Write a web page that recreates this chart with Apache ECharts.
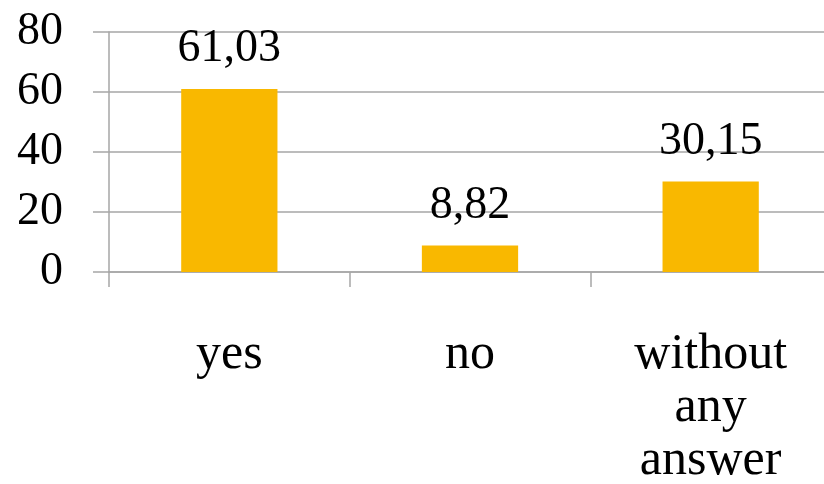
<!DOCTYPE html>
<html>
<head>
<meta charset="utf-8">
<script src="https://cdn.jsdelivr.net/npm/echarts@6/dist/echarts.min.js"></script>
<style>
  html, body { margin: 0; padding: 0; background: #fff; }
  #chart { width: 824px; height: 484px; }
</style>
</head>
<body>
<div id="chart"></div>
<script>
// Survey answers (percent)
const categories = ['yes', 'no', 'without any answer'];
const values = [61.03, 8.82, 30.15];
const yTicks = { min: 0, max: 80, interval: 20 };

const FONT = '"Liberation Serif", "DejaVu Serif", serif';
const GRID_COLOR = '#a6a6a6';

const chart = echarts.init(document.getElementById('chart'), null, { renderer: 'canvas' });

chart.setOption({
  animation: false,
  backgroundColor: '#ffffff',
  grid: { left: 109, right: -7, top: 32, bottom: 212, containLabel: false, outerBoundsMode: 'none' },
  xAxis: {
    type: 'category',
    data: categories,
    axisLine: { show: true, lineStyle: { color: GRID_COLOR, width: 1.5 } },
    axisTick: { show: true, length: 15, alignWithLabel: false, lineStyle: { color: GRID_COLOR, width: 1.5 } },
    axisLabel: {
      margin: 56,
      color: '#000',
      fontFamily: FONT,
      fontSize: 50,
      lineHeight: 53,
      interval: 0,
      formatter: v => v.split(' ').join('\n')
    }
  },
  yAxis: {
    type: 'value',
    min: yTicks.min,
    max: yTicks.max,
    interval: yTicks.interval,
    axisLine: { show: true, lineStyle: { color: GRID_COLOR, width: 1.5 } },
    axisTick: { show: true, length: 16, lineStyle: { color: GRID_COLOR, width: 1.5 } },
    splitLine: { show: true, lineStyle: { color: GRID_COLOR, width: 1.5 } },
    axisLabel: {
      margin: 46,
      color: '#000',
      fontFamily: FONT,
      fontSize: 46
    }
  },
  series: [{
    type: 'bar',
    data: values,
    barWidth: '40%',
    itemStyle: { color: '#F9B800' },
    label: {
      show: true,
      position: 'top',
      distance: 17,
      color: '#000',
      fontFamily: FONT,
      fontSize: 46,
      formatter: p => p.value.toFixed(2).replace('.', ',')
    }
  }]
});
</script>
</body>
</html>
